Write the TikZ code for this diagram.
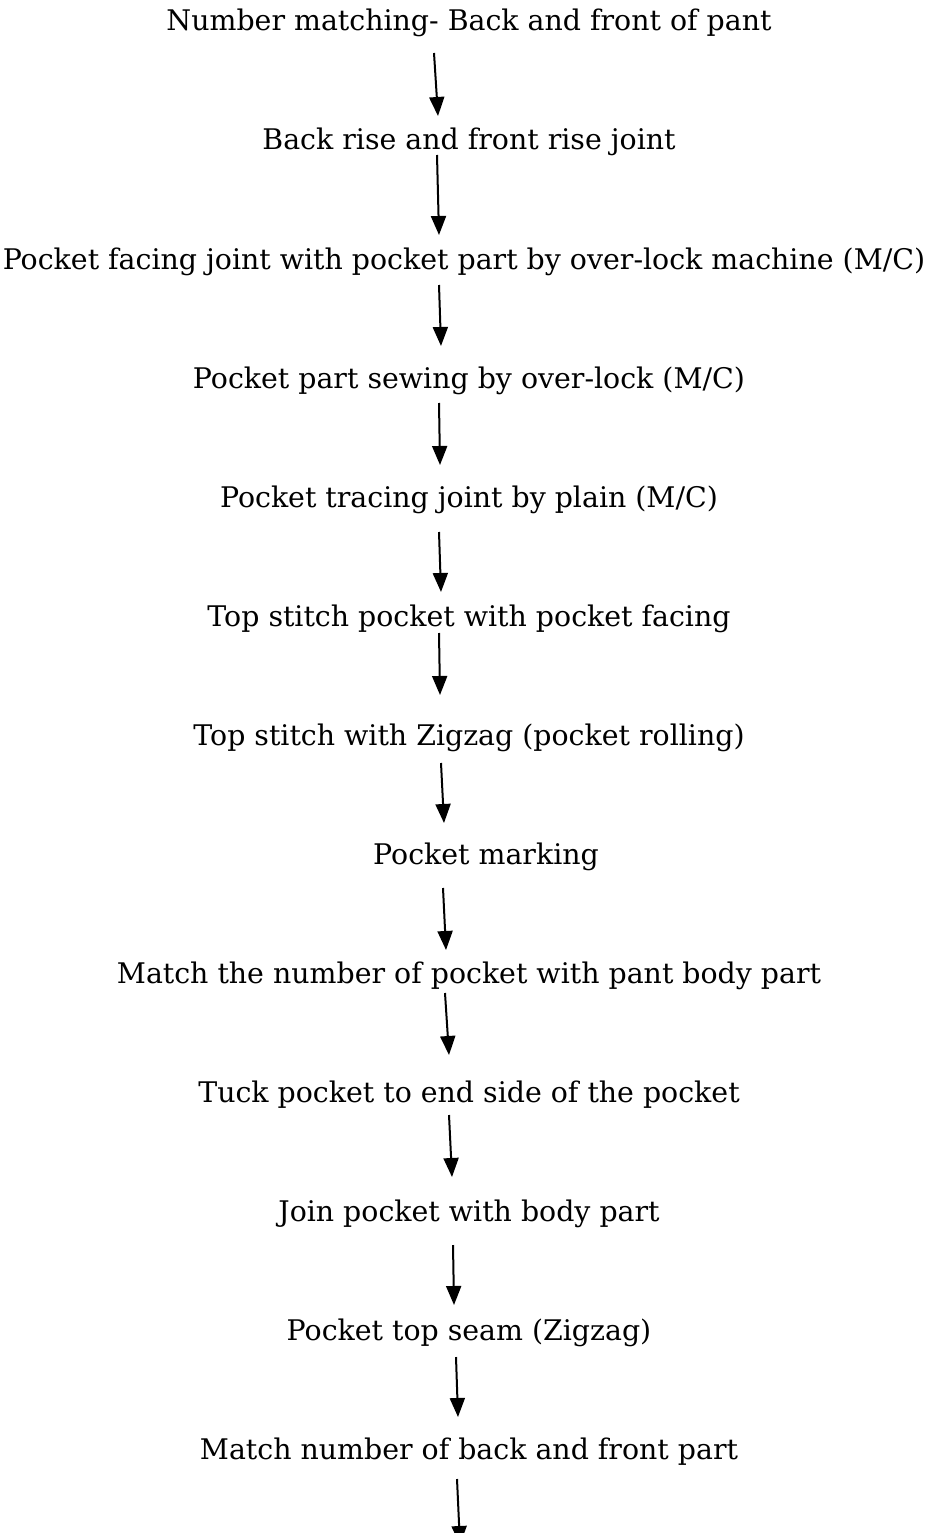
\documentclass[tikz,border=0pt]{standalone}
\usepackage{fontspec}
\setmainfont{DejaVu Serif}
\usetikzlibrary{arrows.meta,calc}

\begin{document}
\begin{tikzpicture}[
        x=1pt,
        y=-1pt,
        stage/.style={
            anchor=base,
            inner sep=0pt,
            font=\fontsize{28.4}{34}\selectfont
        },
        flow/.style={
            -{Triangle[length=19pt,width=15pt]},
            line width=2pt
        }
    ]

        \useasboundingbox (0,0) rectangle (929,1533);

        % process steps, one every 119pt
        \foreach \i/\x/\t in {
            1/469/{Number matching- Back and front of pant},
            2/469/{Back rise and front rise joint},
            3/464/{Pocket facing joint with pocket part by over-lock machine (M/C)},
            4/469/{Pocket part sewing by over-lock (M/C)},
            5/469/{Pocket tracing joint by plain (M/C)},
            6/469/{Top stitch pocket with pocket facing},
            7/469/{Top stitch with Zigzag (pocket rolling)},
            8/486/{Pocket marking},
            9/469/{Match the number of pocket with pant body part},
            10/469/{Tuck pocket to end side of the pocket},
            11/469/{Join pocket with body part},
            12/469/{Pocket top seam (Zigzag)},
            13/469/{Match number of back and front part}} {
            \node[stage] (n\i) at (\x,{31+119*(\i-1)}) {\t};
        }

        \coordinate (tail) at (460,1545);

        % hand drawn arrows between the steps
        \foreach \a/\b/\xa/\ya/\xb/\yb in {
            1/2/-35/22/-31/-34,
            2/3/-32/5/-25/-34,
            3/4/-25/16/-28/-42,
            4/5/-30/15/-29/-42,
            5/6/-30/25/-28/-34,
            6/7/-30/7/-29/-50,
            7/8/-28/18/-42/-41,
            8/9/-43/24/-23/-33,
            9/10/-24/10/-20/-47,
            10/11/-20/13/-17/-44,
            11/12/-16/24/-15/-35,
            12/13/-13/17/-11/-42} {
            \draw[flow] ($(n\a.base)+(\xa,\ya)$) -- ($(n\b.base)+(\xb,\yb)$);
        }
        \draw[flow] ($(n13.base)+(-12,20)$) -- (tail);

    \end{tikzpicture}
\end{document}
